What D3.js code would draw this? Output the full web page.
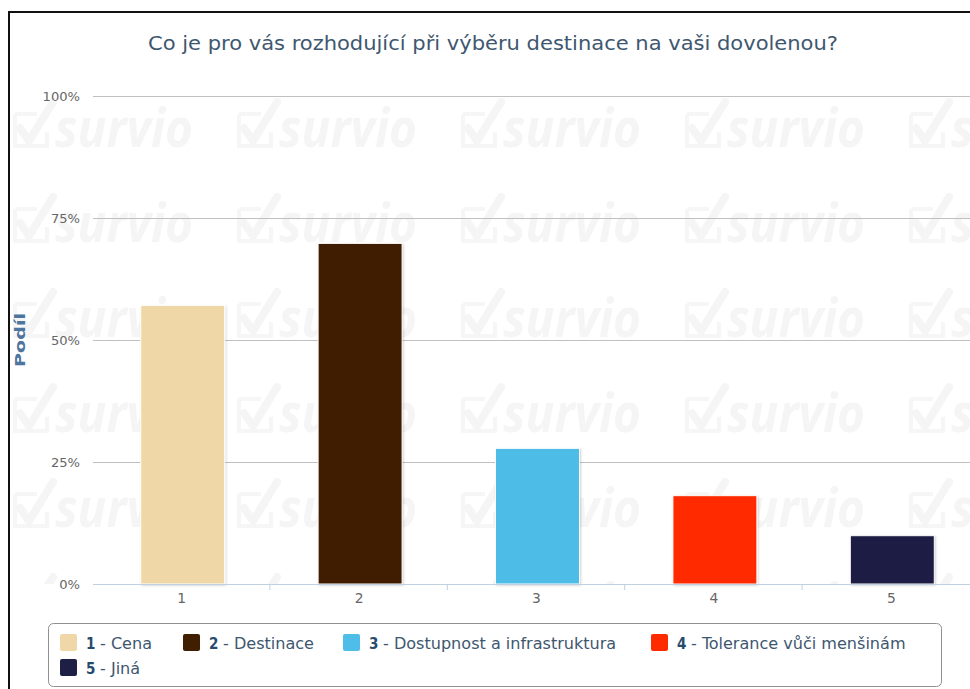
<!DOCTYPE html>
<html>
<head>
<meta charset="utf-8">
<script src="https://cdn.jsdelivr.net/npm/d3@7"></script>
<style>
  body { margin: 0; background: #fff; }
  svg text { font-family: "DejaVu Sans Condensed", "Liberation Sans Narrow", "DejaVu Sans", sans-serif; font-stretch: condensed; }
</style>
</head>
<body>
<svg id="chart"></svg>
<script>
var title = "Co je pro vás rozhodující při výběru destinace na vaši dovolenou?";
var categories = ["1", "2", "3", "4", "5"];
var names = ["Cena", "Destinace", "Dostupnost a infrastruktura", "Tolerance vůči menšinám", "Jiná"];
var values = [57.1, 69.8, 27.8, 18.1, 9.9];
var colors = ["#F0D7A7", "#3F1F00", "#4EBDE8", "#FF2B00", "#1E1F45"];
var yTicks = [0, 25, 50, 75, 100];
var yTitle = "Podíl";

var svgWidth = 970, svgHeight = 689;
var margin = { top: 96, left: 93, bottom: 105 };
var plotRight = 980;
var height = svgHeight - margin.top - margin.bottom;

var svg = d3.select("#chart")
    .attr("width", svgWidth)
    .attr("height", svgHeight);

// the source text runs a little wider than the condensed font here
function widen(sel, k) {
    sel.each(function() {
        var len = this.getComputedTextLength();
        d3.select(this).attr("textLength", len * k).attr("lengthAdjust", "spacingAndGlyphs");
    });
}

var x = d3.scaleBand().domain(categories).range([margin.left, plotRight]).padding(0);
var y = d3.scaleLinear().domain([0, 100]).range([margin.top + height, margin.top]);

// frame round the whole chart
svg.append("rect")
    .attr("x", 9).attr("y", 12)
    .attr("width", 1000).attr("height", 700)
    .attr("fill", "#fff")
    .attr("stroke", "#111")
    .attr("stroke-width", 2);

// survio watermark, clipped to the plot height
svg.append("clipPath").attr("id", "wm")
    .append("rect").attr("x", 10).attr("y", 90).attr("width", 960).attr("height", y(0) - 90);
var wm = svg.append("g").attr("clip-path", "url(#wm)");
for (var r = 0; r < 6; r++) {
    for (var c = 0; c < 5; c++) {
        var tx = 13 + c * 224, ty = 100 + r * 95;
        var t = wm.append("g").attr("transform", "translate(" + tx + "," + ty + ")");
        t.append("path")
            .attr("d", "M2,14 L24,14 M2,14 L2,46 L34,46 L34,32")
            .attr("fill", "none").attr("stroke", "#f6f6f6").attr("stroke-width", 4);
        t.append("path")
            .attr("d", "M7,28 L16,41 L40,2")
            .attr("fill", "none").attr("stroke", "#f5f5f5").attr("stroke-width", 8)
            .attr("stroke-linecap", "round");
        t.append("text")
            .attr("x", 42).attr("y", 47)
            .attr("textLength", 138).attr("lengthAdjust", "spacingAndGlyphs")
            .style("font-family", "'Open Sans', sans-serif")
            .style("font-stretch", "normal")
            .style("font-size", "54px").style("font-weight", "bold").style("font-style", "italic")
            .attr("fill", "#f5f5f5")
            .text("survio");
    }
}

// title
svg.append("text")
    .attr("x", 493).attr("y", 50)
    .attr("text-anchor", "middle")
    .attr("fill", "#3E576F")
    .style("font-size", "19px")
    .text(title)
    .call(widen, 1.23);

// grid lines + y labels
var yAxis = svg.append("g")
    .attr("transform", "translate(" + margin.left + ",0)")
    .call(d3.axisLeft(y).tickValues(yTicks).tickSize(-(plotRight - margin.left))
        .tickFormat(function(d) { return d + "%"; }));
yAxis.select(".domain").remove();
yAxis.selectAll(".tick line").attr("stroke", "#C0C0C0");
yAxis.selectAll(".tick text")
    .attr("x", -13).attr("dy", "0.35em")
    .attr("fill", "#666").style("font-size", "13px")
    .call(widen, 1.12);

// y axis title
svg.append("text")
    .attr("transform", "translate(25," + y(50) + ") rotate(-90)")
    .attr("text-anchor", "middle")
    .attr("fill", "#4d759e")
    .style("font-size", "14px").style("font-weight", "bold")
    .text(yTitle)
    .attr("textLength", 54).attr("lengthAdjust", "spacingAndGlyphs");

// bar shadow
var defs = svg.append("defs");
var f = defs.append("filter").attr("id", "sh").attr("x", "-10%").attr("y", "-10%").attr("width", "130%").attr("height", "130%");
f.append("feDropShadow").attr("dx", 1).attr("dy", 1).attr("stdDeviation", 1)
    .attr("flood-color", "#000").attr("flood-opacity", 0.18);

var barW = 84;
svg.append("g").selectAll("rect")
    .data(values)
    .enter().append("rect")
    .attr("x", function(d, i) { return x(categories[i]) + (x.bandwidth() - barW) / 2 + 1; })
    .attr("y", function(d) { return y(d); })
    .attr("width", barW)
    .attr("height", function(d) { return y(0) - y(d); })
    .attr("fill", function(d, i) { return colors[i]; })
    .attr("stroke", "#fff")
    .attr("stroke-width", 1)
    .attr("filter", "url(#sh)");

// x axis
var xAxis = svg.append("g")
    .attr("transform", "translate(0," + y(0) + ")")
    .call(d3.axisBottom(x).tickSize(0).tickSizeOuter(0));
xAxis.select(".domain").attr("stroke", "#C0D0E0").attr("d", "M" + margin.left + ",0.5H" + plotRight);
xAxis.selectAll(".tick text")
    .attr("y", 9).attr("dy", "0.71em")
    .attr("fill", "#666").style("font-size", "14px")
    .call(widen, 1.1);
xAxis.selectAll(".bound")
    .data(categories.slice(1))
    .enter().append("line")
    .attr("x1", function(d) { return x(d) - 0.5; })
    .attr("x2", function(d) { return x(d) - 0.5; })
    .attr("y1", 0).attr("y2", 6)
    .attr("stroke", "#C0D0E0");

// legend
svg.append("rect")
    .attr("x", 48.5).attr("y", 623.5)
    .attr("width", 893).attr("height", 63)
    .attr("rx", 5)
    .attr("fill", "#fff")
    .attr("stroke", "#909090");

var legendPos = [[60, 634], [183, 634], [343, 634], [651, 634], [60, 659]];
var items = svg.append("g").selectAll("g")
    .data(categories)
    .enter().append("g")
    .attr("transform", function(d, i) { return "translate(" + legendPos[i][0] + "," + legendPos[i][1] + ")"; });
items.append("rect")
    .attr("width", 17).attr("height", 17).attr("rx", 2)
    .attr("fill", function(d, i) { return colors[i]; });
items.append("text")
    .attr("x", 26).attr("y", 15)
    .attr("fill", "#274b6d")
    .style("font-size", "15px").style("font-weight", "bold")
    .text(function(d) { return d; });
items.append("text")
    .attr("x", 40).attr("y", 15)
    .attr("fill", "#3E576F")
    .style("font-size", "15px")
    .text(function(d, i) { return "- " + names[i]; })
    .call(widen, 1.19);
</script>
</body>
</html>
